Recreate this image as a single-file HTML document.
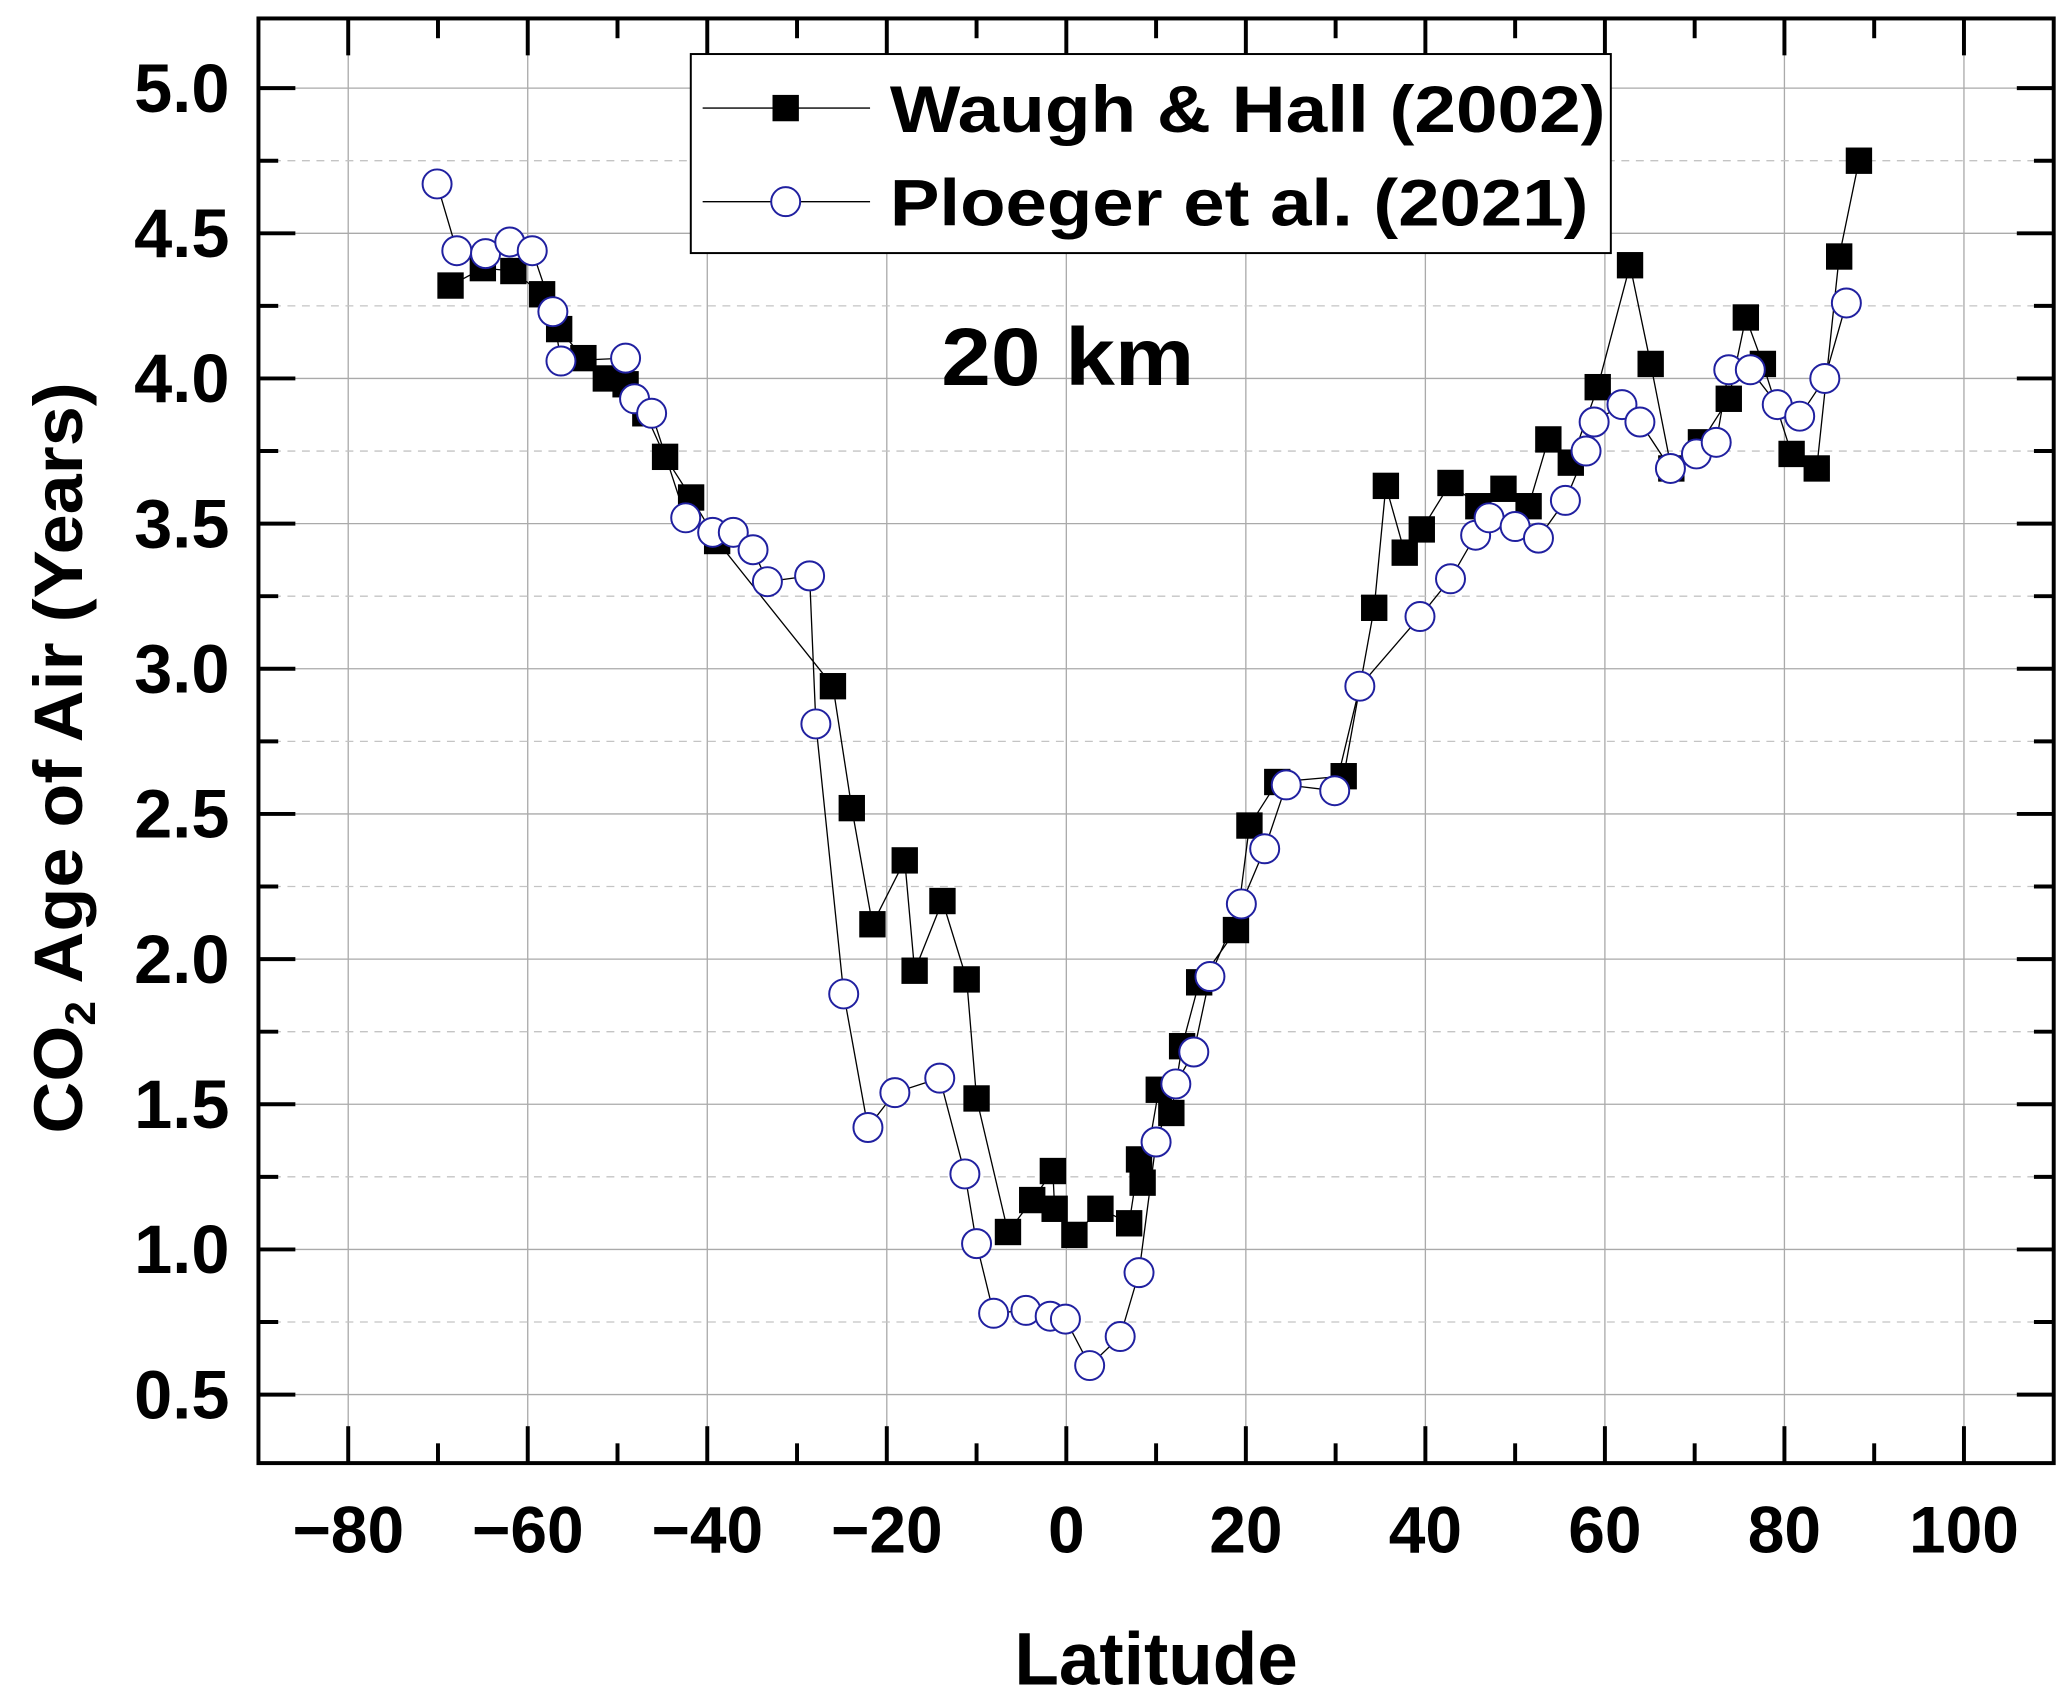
<!DOCTYPE html>
<html><head><meta charset="utf-8"><style>
html,body{margin:0;padding:0;background:#fff;}
svg{display:block;}
text{font-family:"Liberation Sans",Arial,sans-serif;font-weight:bold;fill:#000;}
</style></head><body>
<svg id="chart" width="2067" height="1703" viewBox="0 0 1568 1292" xmlns="http://www.w3.org/2000/svg">
<g id="grid"></g>
<g id="axes"></g>
<g id="series"></g>
<g>
 <rect x="524" y="41" width="698" height="151" fill="#fff" stroke="#000" stroke-width="1.5"/>
 <line x1="533" y1="82" x2="660" y2="82" stroke="#000" stroke-width="1"/>
 <rect x="586" y="72" width="20" height="20" fill="#000"/>
 <text x="675" y="100" font-size="50" textLength="543" lengthAdjust="spacingAndGlyphs">Waugh &amp; Hall (2002)</text>
 <line x1="533" y1="153" x2="660" y2="153" stroke="#000" stroke-width="1"/>
 <circle cx="596" cy="153" r="11" fill="#fff" stroke="#2020a0" stroke-width="1.5"/>
 <text x="675" y="171" font-size="50" textLength="530" lengthAdjust="spacingAndGlyphs">Ploeger et al. (2021)</text>
</g>
<text x="810" y="292" font-size="62" text-anchor="middle" textLength="192" lengthAdjust="spacingAndGlyphs">20 km</text>
<text x="877" y="1278" font-size="56" text-anchor="middle" textLength="215" lengthAdjust="spacingAndGlyphs">Latitude</text>
<text transform="translate(62,575) rotate(-90)" font-size="52" text-anchor="middle" textLength="570" lengthAdjust="spacingAndGlyphs">CO<tspan font-size="32" dy="10">2</tspan><tspan dy="-10"> Age of Air (Years)</tspan></text>
</svg>
<script>
const xTicks = [-80,-60,-40,-20,0,20,40,60,80,100];
const yTicks = [0.5,1.0,1.5,2.0,2.5,3.0,3.5,4.0,4.5,5.0];
const waughLat = [-68.6,-65,-61.6,-58.4,-56.5,-53.8,-51.3,-49.1,-46.9,-44.7,-41.8,-38.9,-26,-23.9,-21.6,-18,-16.9,-13.8,-11.1,-10,-6.5,-3.8,-1.5,-1.3,0.9,3.8,7,8.1,8.5,10.3,11.7,12.9,14.8,18.9,20.4,23.5,30.9,34.3,35.6,37.7,39.6,42.8,45.9,48.7,51.5,53.7,56.2,59.2,62.8,65.1,67.4,70.7,73.8,75.7,77.6,80.8,83.6,86.1,88.3];
const waughAge = [4.32,4.38,4.37,4.29,4.17,4.07,4.0,3.98,3.88,3.73,3.59,3.44,2.94,2.52,2.12,2.34,1.96,2.2,1.93,1.52,1.06,1.17,1.27,1.14,1.05,1.14,1.09,1.31,1.23,1.55,1.47,1.7,1.92,2.1,2.46,2.61,2.63,3.21,3.63,3.4,3.48,3.64,3.56,3.62,3.56,3.79,3.71,3.97,4.39,4.05,3.69,3.78,3.93,4.21,4.05,3.74,3.69,4.42,4.75];
const ploegerLat = [-70.1,-67.9,-64.7,-62,-59.5,-57.2,-56.3,-49.1,-48.1,-46.2,-42.4,-39.4,-37.1,-34.9,-33.3,-28.6,-27.9,-24.8,-22.1,-19.1,-14.1,-11.3,-10,-8.1,-4.5,-1.8,-0.1,2.6,6,8.1,10,12.2,14.2,16,19.5,22.1,24.5,29.9,32.7,39.4,42.8,45.6,47.1,50,52.6,55.6,57.9,58.8,61.9,63.9,67.3,70.2,72.4,73.8,76.2,79.2,81.7,84.5,86.9];
const ploegerAge = [4.67,4.44,4.43,4.47,4.44,4.23,4.06,4.07,3.93,3.88,3.52,3.47,3.47,3.41,3.3,3.32,2.81,1.88,1.42,1.54,1.59,1.26,1.02,0.78,0.79,0.77,0.76,0.6,0.7,0.92,1.37,1.57,1.68,1.94,2.19,2.38,2.6,2.58,2.94,3.18,3.31,3.46,3.52,3.49,3.45,3.58,3.75,3.85,3.91,3.85,3.69,3.74,3.78,4.03,4.03,3.91,3.87,4.0,4.26];

const L=196,R=1558,T=14,B=1110;
const xMin=-90,xMax=110,yMin=0.264,yMax=5.24;
const sx=v=>L+(v-xMin)/(xMax-xMin)*(R-L);
const sy=v=>B-(v-yMin)/(yMax-yMin)*(B-T);
const NS="http://www.w3.org/2000/svg";
function mk(parent,tag,attrs){const e=document.createElementNS(NS,tag);for(const k in attrs)e.setAttribute(k,attrs[k]);parent.appendChild(e);return e;}
const grid=document.getElementById('grid'),axes=document.getElementById('axes'),series=document.getElementById('series');

xTicks.forEach(v=>{const e=mk(grid,'line',{x1:sx(v),x2:sx(v),y1:T,y2:B,stroke:'#aaa','stroke-width':1});

});
yTicks.forEach(v=>{const e=mk(grid,'line',{x1:L,x2:R,y1:sy(v),y2:sy(v),stroke:'#aaa','stroke-width':1});


const m=v+0.25; if(m<yMax){const d=mk(grid,'line',{x1:L,x2:R,y1:sy(m),y2:sy(m),stroke:'#c4c4c4','stroke-width':1,'stroke-dasharray':'6,5'});

}});

const fr=mk(axes,'rect',{x:L,y:T,width:R-L,height:B-T,fill:'none',stroke:'#000','stroke-width':3});



xTicks.forEach(v=>{const x=sx(v);
mk(axes,'line',{x1:x,x2:x,y1:B,y2:B-28,stroke:'#000','stroke-width':3});
mk(axes,'line',{x1:x,x2:x,y1:T,y2:T+28,stroke:'#000','stroke-width':3});
const mx=sx(v+10); if(v+10<xMax){mk(axes,'line',{x1:mx,x2:mx,y1:B,y2:B-15,stroke:'#000','stroke-width':3});mk(axes,'line',{x1:mx,x2:mx,y1:T,y2:T+15,stroke:'#000','stroke-width':3});}
const t=mk(axes,'text',{x:x,y:1178,'font-size':50,'text-anchor':'middle'});
t.textContent=(v<0?'\u2212'+(-v):String(v));

});
yTicks.forEach(v=>{const y=sy(v);
mk(axes,'line',{x1:L,x2:L+28,y1:y,y2:y,stroke:'#000','stroke-width':3});
mk(axes,'line',{x1:R,x2:R-28,y1:y,y2:y,stroke:'#000','stroke-width':3});
const m=v+0.25; if(m<yMax){mk(axes,'line',{x1:L,x2:L+15,y1:sy(m),y2:sy(m),stroke:'#000','stroke-width':3});mk(axes,'line',{x1:R,x2:R-15,y1:sy(m),y2:sy(m),stroke:'#000','stroke-width':3});}
const t=mk(axes,'text',{x:174,y:y+18,'font-size':52,'text-anchor':'end'});
t.textContent=v.toFixed(1);

});

function pts(xs,ys){return xs.map((x,i)=>sx(x)+','+sy(ys[i])).join(' ');}
const wl=mk(series,'polyline',{points:pts(waughLat,waughAge),fill:'none',stroke:'#000','stroke-width':1});


const pl=mk(series,'polyline',{points:pts(ploegerLat,ploegerAge),fill:'none',stroke:'#000','stroke-width':1});


waughLat.forEach((x,i)=>{const r=mk(series,'rect',{x:sx(x)-10,y:sy(waughAge[i])-10,width:20,height:20,fill:'#000'});

});
ploegerLat.forEach((x,i)=>{const c=mk(series,'circle',{cx:sx(x),cy:sy(ploegerAge[i]),r:11,fill:'#fff',stroke:'#2020a0','stroke-width':1.5});

});
</script>
</body></html>
